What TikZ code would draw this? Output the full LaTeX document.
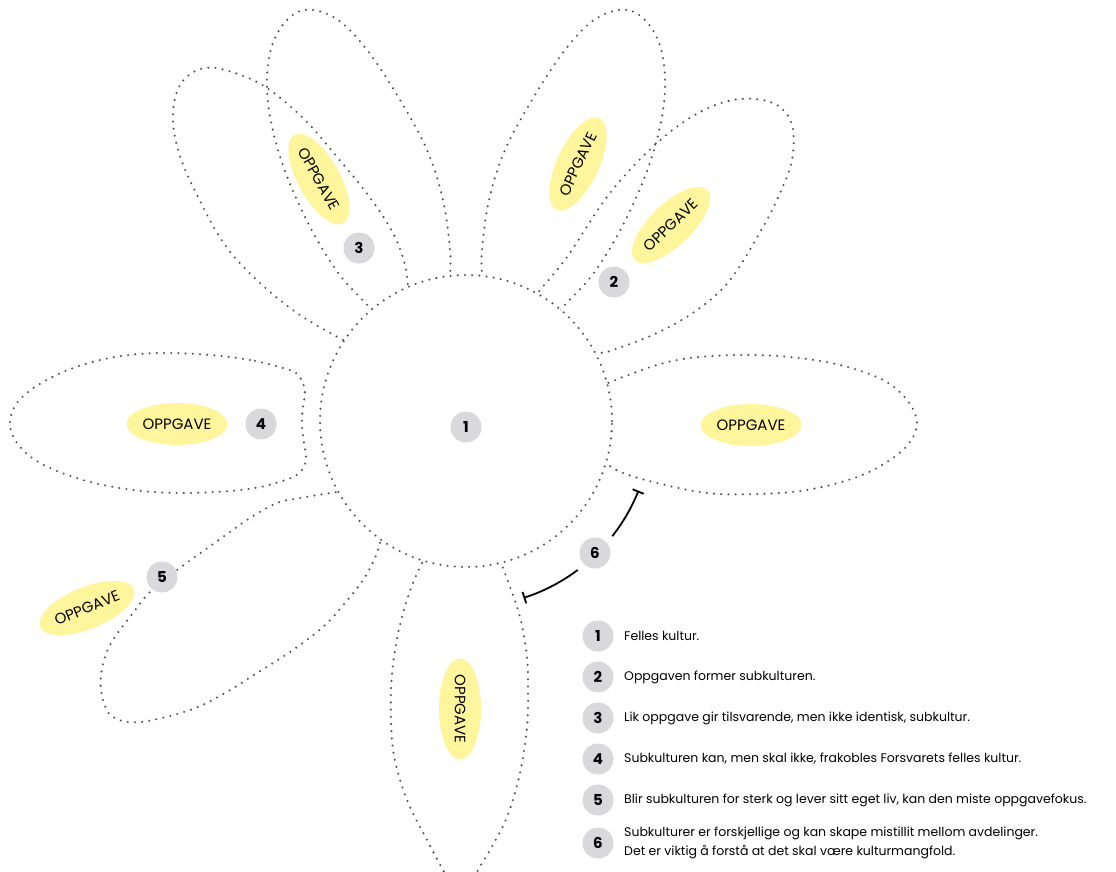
\documentclass[tikz,border=0pt]{standalone}
\usepackage{fontspec}
\setmainfont{Poppins}
\usetikzlibrary{arrows.meta,shapes.geometric}
\definecolor{dotgrey}{HTML}{505050}
\definecolor{badgegrey}{HTML}{D9D9DB}
\definecolor{taskyellow}{HTML}{FFF59D}
\tikzset{
  petal/.style={draw=dotgrey, line width=2.3pt, dash pattern=on 0pt off 7.2pt, line cap=round},
  hub/.style={petal, circle, fill=white, inner sep=0pt},
  task/.style={ellipse, fill=taskyellow, minimum width=101pt, minimum height=42pt, inner sep=0pt, font=\fontsize{15}{15}\selectfont},
  badge/.style={circle, fill=badgegrey, minimum size=31pt, inner sep=0pt, font=\fontsize{15}{15}\selectfont\bfseries},
  ringbadge/.style={badge, preaction={draw=white, line width=17pt}},
  legendtext/.style={anchor=west, inner sep=0pt, align=left, font=\fontsize{12.5}{19}\selectfont},
  bracket/.style={line width=1.8pt, {Bar[width=12pt]}-{Bar[width=12pt]}}
}
\begin{document}
\begin{tikzpicture}[x=1pt,y=-1pt]
\useasboundingbox (0,0) rectangle (1116,872);
\begin{scope}
\clip (0,0) rectangle (1116,872);
% petal T1 (tall, upper left)
\draw[petal] plot[smooth, tension=0.6] coordinates {(380,322) (370,308) (336,270) (303,213) (278,150) (267,90) (274,40) (300,11) (335,18) (367,50) (400,100) (427,150) (443,200) (450,250) (450,277) (449,295)};
% petal T2 (tall, upper right)
\draw[petal] plot[smooth, tension=0.6] coordinates {(552,322) (562,308) (596,270) (629,213) (654,150) (665,90) (658,40) (632,11) (597,18) (565,50) (532,100) (505,150) (489,200) (482,250) (482,277) (483,295)};
% petal B (upper left, wide)
\draw[petal] plot[smooth, tension=0.6] coordinates {(362,350) (343,340) (300,315) (260,283) (225,245) (196,193) (178,150) (173,112) (182,82) (205,68) (235,73) (267,88) (305,120) (337,157) (368,195) (393,233) (405,265) (408,287) (411,305)};
% petal C (upper right, wide)
\draw[petal] plot[smooth, tension=0.6] coordinates {(530,302) (540,290) (567,257) (610,193) (657,143) (700,112) (740,99) (775,104) (792,125) (792,160) (780,193) (763,227) (730,280) (697,310) (657,333) (610,351) (597,353) (582,358)};
% petal right
\draw[petal] plot[smooth, tension=0.6] coordinates {(595,388) (608,383) (623,377) (657,365) (690,358) (740,355) (790,357) (840,365) (883,380) (907,400) (917,422) (910,442) (890,460) (857,477) (807,490) (757,494) (707,493) (657,483) (623,473) (608,465) (595,458)};
% petal left (detached)
\draw[petal] plot[smooth cycle, tension=0.6] coordinates {(283,368) (250,360) (210,355) (160,353) (115,357) (73,368) (38,385) (17,403) (10,423) (17,443) (40,463) (83,480) (133,490) (183,493) (230,491) (260,487) (279,482) (293,477) (302,470) (306,460) (305,449) (303,436) (302,420) (303,406) (305,394) (303,383) (296,373)};
% petal lower left
\draw[petal] plot[smooth, tension=0.6] coordinates {(350,490) (337,492) (300,498) (277,503) (250,518) (223,537) (177,570) (150,592) (133,613) (110,645) (101,675) (103,700) (113,717) (140,722) (190,710) (225,693) (257,673) (290,652) (323,627) (345,603) (363,580) (375,558) (380,543) (384,532)};
% petal bottom
\draw[petal] plot[smooth, tension=0.6] coordinates {(428,550) (422,563) (413,583) (403,613) (395,650) (391,690) (392,740) (398,773) (410,807) (427,840) (443,870) (455,890) (468,890) (478,870) (490,850) (507,817) (520,773) (527,727) (528,690) (527,657) (520,617) (510,587) (502,565) (498,552)};
\end{scope}
% hub
\node[hub, minimum size=292pt] (hub) at (466,421) {};
% tasks
\node[task, rotate=-61] (tT1) at (319,179) {OPPGAVE};
\node[task, rotate=65] (tT2) at (578,164) {OPPGAVE};
\node[task, rotate=44] (tC) at (671,225) {OPPGAVE};
\node[task] (tR) at (751,425) {OPPGAVE};
\node[task] (tL) at (177,424) {OPPGAVE};
\node[task, rotate=-90] (tB) at (460,709) {OPPGAVE};
\node[task, rotate=22] (tBL) at (87,608) {OPPGAVE};
% bracket 6
\coordinate (b6s) at (638.5,490.7);
\draw[bracket] (b6s) arc[start angle=22, end angle=72, radius=186];
% badges
\node[badge] (n1) at (466,427) {1};
\node[badge] (n2) at (614,282) {2};
\node[badge] (n3) at (359,248) {3};
\node[badge] (n4) at (261,424) {4};
\node[badge] (n5) at (162,577) {5};
\node[ringbadge] (n6) at (595,553) {6};
% legend
\node[badge] (l1) at (598,636) {1};
\node[badge] (l2) at (598,677) {2};
\node[badge] (l3) at (598,718) {3};
\node[badge] (l4) at (598,759) {4};
\node[badge] (l5) at (598,800) {5};
\node[badge] (l6) at (598,843) {6};
\node[legendtext] (e1) at (624,636) {Felles kultur.};
\node[legendtext] (e2) at (624,677) {Oppgaven former subkulturen.};
\node[legendtext] (e3) at (624,718) {Lik oppgave gir tilsvarende, men ikke identisk, subkultur.};
\node[legendtext] (e4) at (624,759) {Subkulturen kan, men skal ikke, frakobles Forsvarets felles kultur.};
\node[legendtext] (e5) at (624,800) {Blir subkulturen for sterk og lever sitt eget liv, kan den miste oppgavefokus.};
\node[legendtext] (e6) at (624,843) {Subkulturer er forskjellige og kan skape mistillit mellom avdelinger.\\Det er viktig å forstå at det skal være kulturmangfold.};
\end{tikzpicture}
\end{document}
